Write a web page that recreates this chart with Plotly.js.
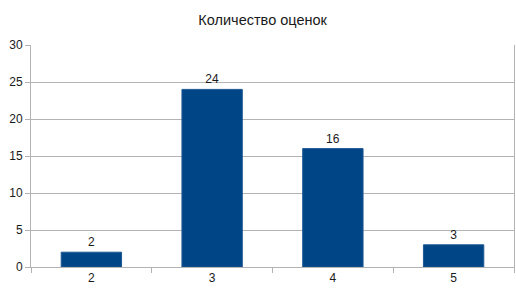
<!DOCTYPE html>
<html><head><meta charset="utf-8">
<script src="https://cdn.plot.ly/plotly-3.0.1.min.js"></script>
<style>html,body{margin:0;padding:0;background:#fff}#c{width:516px;height:289px}</style>
</head><body><div id="c"></div>
<script>
const categories = ["2", "3", "4", "5"];
const counts = [2, 24, 16, 3];
const titleText = "Количество оценок";

Plotly.newPlot("c", [{
  type: "bar",
  x: categories,
  y: counts,
  text: counts.map(String),
  textposition: "outside",
  cliponaxis: false,
  textfont: {family: "Liberation Sans, Arial, sans-serif", size: 12, color: "#1a1a1a"},
  marker: {color: "#004586", line: {color: "#1f5a95", width: 1}},
  width: 0.5,
  hoverinfo: "none"
}], {
  width: 516, height: 289,
  margin: {l: 31, r: 2, t: 45, b: 22},
  paper_bgcolor: "#fff", plot_bgcolor: "#fff",
  showlegend: false,
  title: {text: titleText, x: 0.509, xanchor: "center", y: 0.93, yanchor: "middle",
    font: {family: "Liberation Sans, Arial, sans-serif", size: 14.5, color: "#1a1a1a"}},
  xaxis: {
    type: "category",
    showgrid: false,
    showline: true, linecolor: "#b3b3b3", linewidth: 1,
    ticks: "outside", tickson: "boundaries", ticklen: 5, tickcolor: "#b3b3b3",
    tickfont: {family: "Liberation Sans, Arial, sans-serif", size: 12, color: "#1a1a1a"},
    fixedrange: true
  },
  yaxis: {
    range: [0, 30], dtick: 5, tick0: 0,
    showgrid: true, gridcolor: "#b3b3b3", gridwidth: 1,
    showline: true, linecolor: "#b3b3b3", linewidth: 1, mirror: true,
    ticks: "outside", ticklen: 5, tickcolor: "#b3b3b3",
    tickfont: {family: "Liberation Sans, Arial, sans-serif", size: 12, color: "#1a1a1a"},
    zeroline: false,
    fixedrange: true
  }
}, {displayModeBar: false, staticPlot: true});
</script></body></html>
